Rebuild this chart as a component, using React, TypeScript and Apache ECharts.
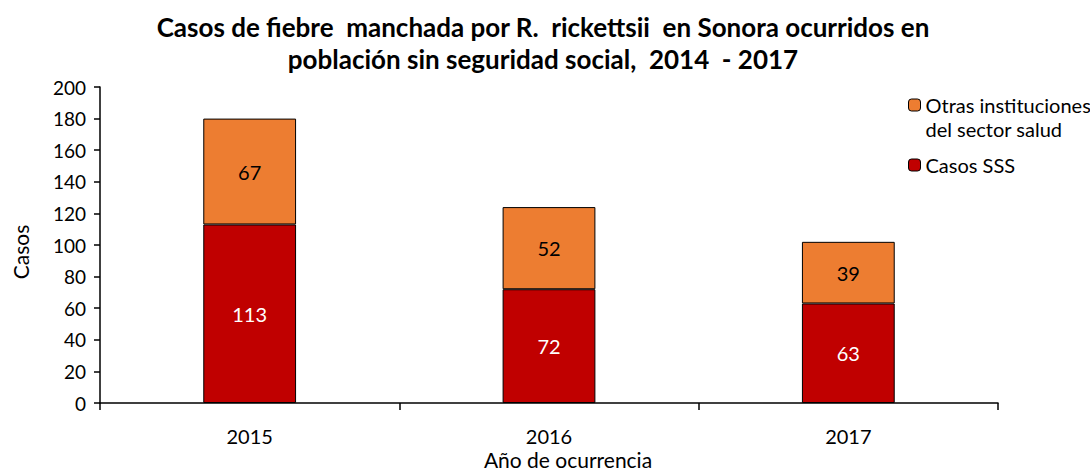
import React, { useEffect, useRef } from "react";
import * as echarts from "echarts";

const categories = ["2015", "2016", "2017"];
const casosSSS = [113, 72, 63];
const otras = [67, 52, 39];
const yTicks = { min: 0, max: 200, interval: 20 };

const FONT = "Lato, 'Liberation Sans', Arial, sans-serif";
const OTRAS = "Otras instituciones\ndel sector salud";

export default function App() {
  const ref = useRef<HTMLDivElement>(null);
  useEffect(() => {
    if (!ref.current) return;
    const chart = echarts.init(ref.current, undefined, { renderer: "svg" });
    chart.setOption({
      animation: false,
      backgroundColor: "#ffffff",
      textStyle: { fontFamily: FONT },
      title: {
        text: "Casos de fiebre  manchada por R.  rickettsii  en Sonora ocurridos en\npoblación sin seguridad social,  2014  - 2017",
        left: 538,
        textAlign: "center",
        top: 6,
        textStyle: { fontFamily: FONT, fontWeight: "bold", fontSize: 26, lineHeight: 32, color: "#000" },
      },
      legend: {
        orient: "vertical",
        left: 903,
        top: 64,
        itemWidth: 12,
        itemHeight: 12,
        itemGap: 12,
        data: [OTRAS, "Casos SSS"],
        formatter: (name: string) => (name === OTRAS ? " \n" + name : name),
        textStyle: { fontFamily: FONT, fontSize: 20, lineHeight: 24, color: "#000" },
        itemStyle: { borderColor: "#000", borderWidth: 1 },
      },
      grid: { left: 100, right: 92, top: 87, bottom: 68, outerBoundsMode: "none" },
      graphic: [
        {
          type: "text",
          x: 568,
          y: 459,
          style: { text: "Año de ocurrencia", font: `21px ${FONT}`, fill: "#000", align: "center", verticalAlign: "middle" },
        },
        {
          type: "text",
          x: 20,
          y: 252,
          rotation: Math.PI / 2,
          style: { text: "Casos", font: `21px ${FONT}`, fill: "#000", align: "center", verticalAlign: "middle" },
        },
      ],
      xAxis: {
        type: "category",
        data: categories,
        axisLine: { lineStyle: { color: "#000", width: 1.5 } },
        axisTick: { show: true, alignWithLabel: false, length: 7, lineStyle: { color: "#000", width: 1.5 } },
        axisLabel: { fontFamily: FONT, fontSize: 20, color: "#000", margin: 23 },
      },
      yAxis: {
        type: "value",
        min: yTicks.min,
        max: yTicks.max,
        interval: yTicks.interval,
        axisLine: { show: true, lineStyle: { color: "#000", width: 1.5 } },
        axisTick: { show: true, inside: false, length: 6, lineStyle: { color: "#000", width: 1.5 } },
        axisLabel: { fontFamily: FONT, fontSize: 19, color: "#000", margin: 14 },
        splitLine: { show: false },
      },
      series: [
        {
          name: "Casos SSS",
          type: "bar",
          stack: "total",
          data: casosSSS,
          barWidth: "31%",
          itemStyle: { color: "#C00000", borderColor: "#000", borderWidth: 1 },
          label: { show: true, position: "inside", color: "#fff", fontFamily: FONT, fontSize: 20 },
        },
        {
          name: OTRAS,
          type: "bar",
          stack: "total",
          data: otras,
          barWidth: "31%",
          itemStyle: { color: "#ED7D31", borderColor: "#000", borderWidth: 1 },
          label: { show: true, position: "inside", color: "#000", fontFamily: FONT, fontSize: 20 },
        },
      ],
    });
    return () => chart.dispose();
  }, []);
  return <div ref={ref} style={{ width: 1090, height: 471, position: "absolute", left: 0, top: 0 }} />;
}
